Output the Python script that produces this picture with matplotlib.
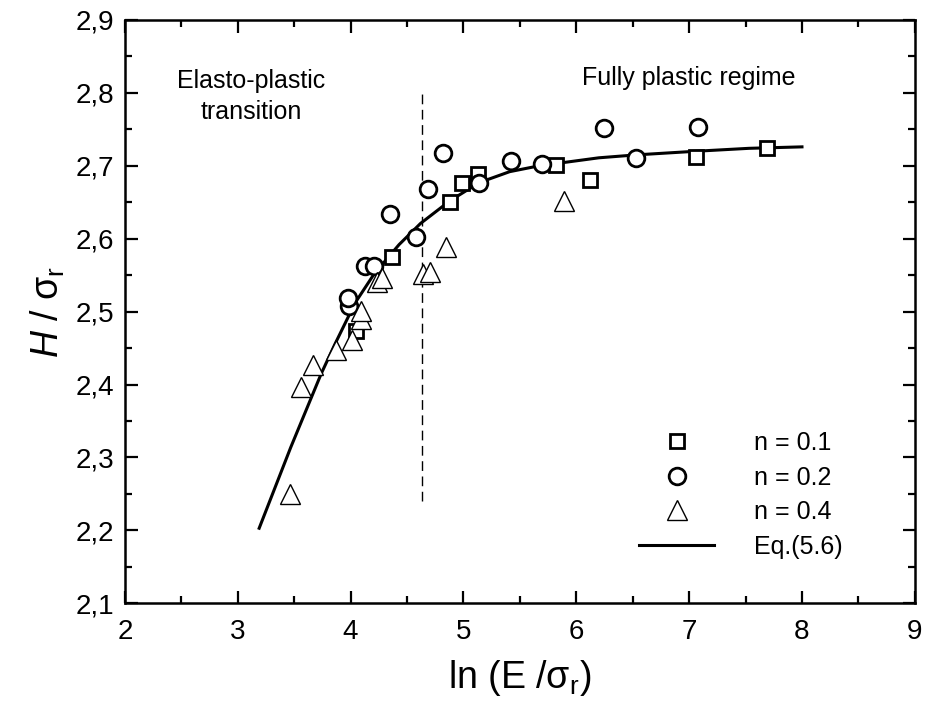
import matplotlib
matplotlib.use("Agg")
import matplotlib.pyplot as plt
from matplotlib.ticker import MultipleLocator, FuncFormatter
from matplotlib.lines import Line2D

plt.rcParams['font.family'] = ['Liberation Sans', 'DejaVu Sans']
plt.rcParams['mathtext.fontset'] = 'custom'
plt.rcParams['mathtext.rm'] = 'Liberation Sans'
plt.rcParams['mathtext.it'] = 'Liberation Sans:italic'

# n = 0.1
x_n01 = [4.05, 4.37, 4.88, 4.99, 5.13, 5.82, 6.12, 7.06, 7.69]
y_n01 = [2.474, 2.575, 2.650, 2.677, 2.689, 2.701, 2.681, 2.712, 2.724]

# n = 0.2
x_n02 = [3.99, 3.98, 4.13, 4.21, 4.35, 4.58, 4.69, 4.82, 5.14, 5.42, 5.70, 6.25, 6.53, 7.08]
y_n02 = [2.508, 2.519, 2.562, 2.563, 2.634, 2.603, 2.668, 2.717, 2.676, 2.707, 2.702, 2.752, 2.711, 2.753]

# n = 0.4
x_n04 = [3.46, 3.56, 3.67, 3.87, 4.01, 4.09, 4.09, 4.23, 4.28, 4.64, 4.70, 4.85, 5.89]
y_n04 = [2.250, 2.397, 2.427, 2.448, 2.461, 2.490, 2.501, 2.541, 2.546, 2.551, 2.555, 2.588, 2.652]

# Eq.(5.6)
x_eq = [3.19, 3.47, 3.74, 3.86, 4.04, 4.21, 4.43, 4.62, 4.88, 5.14, 5.41, 5.67, 6.20, 6.53, 7.06, 7.53, 8.00]
y_eq = [2.203, 2.314, 2.415, 2.455, 2.512, 2.552, 2.592, 2.621, 2.652, 2.677, 2.692, 2.700, 2.711, 2.715, 2.720, 2.724, 2.726]

x_boundary = 4.63

fig = plt.figure(figsize=(9.25, 7.14), dpi=100)
ax = fig.add_axes([0.135, 0.155, 0.854, 0.817])

ax.plot(x_eq, y_eq, color='black', lw=2.2, zorder=2)
ax.plot(x_n01, y_n01, ls='none', marker='s', ms=10, mfc='white', mec='black', mew=2.0, zorder=3)
ax.plot(x_n02, y_n02, ls='none', marker='o', ms=12, mfc='white', mec='black', mew=2.0, zorder=3)
ax.plot(x_n04, y_n04, ls='none', marker='^', ms=14, mfc='white', mec='black', mew=1.0, zorder=4)

ax.plot([x_boundary, x_boundary], [2.24, 2.80], color='black', lw=1.0, ls=(0, (7, 4)), zorder=1)

ax.text(3.12, 2.795, 'Elasto-plastic\ntransition', ha='center', va='center',
        fontsize=18, linespacing=1.4)
ax.text(7.0, 2.82, 'Fully plastic regime', ha='center', va='center', fontsize=18)

ax.set_xlim(2, 9)
ax.set_ylim(2.1, 2.9)
ax.xaxis.set_major_locator(MultipleLocator(1))
ax.xaxis.set_minor_locator(MultipleLocator(0.5))
ax.yaxis.set_major_locator(MultipleLocator(0.1))
ax.yaxis.set_minor_locator(MultipleLocator(0.05))
ax.yaxis.set_major_formatter(FuncFormatter(lambda v, p: f'{v:.1f}'.replace('.', ',')))

ax.tick_params(which='both', direction='in', top=True, right=True, width=1.6, labelsize=20)
ax.tick_params(axis='x', pad=11)
ax.tick_params(axis='y', pad=8)
ax.tick_params(which='major', length=9)
ax.tick_params(which='minor', length=5)
for s in ax.spines.values():
    s.set_linewidth(1.8)

ax.set_xlabel(r'ln (E /σ$_\mathrm{r}$)', fontsize=27, labelpad=10)
ax.set_ylabel(r'$\it{H}$ / σ$_\mathrm{r}$', fontsize=27, labelpad=6)

handles = [
    Line2D([], [], ls='none', marker='s', ms=10, mfc='white', mec='black', mew=2.0),
    Line2D([], [], ls='none', marker='o', ms=12, mfc='white', mec='black', mew=2.0),
    Line2D([], [], ls='none', marker='^', ms=14, mfc='white', mec='black', mew=1.0),
    Line2D([], [], color='black', lw=2.2),
]
ax.legend(handles, ['n = 0.1', 'n = 0.2', 'n = 0.4', 'Eq.(5.6)'], loc='lower right',
          bbox_to_anchor=(0.925, 0.055), frameon=False, fontsize=18, handlelength=3.0,
          handletextpad=1.6, labelspacing=0.42, borderpad=0)

fig.savefig('out.png', dpi=100)
